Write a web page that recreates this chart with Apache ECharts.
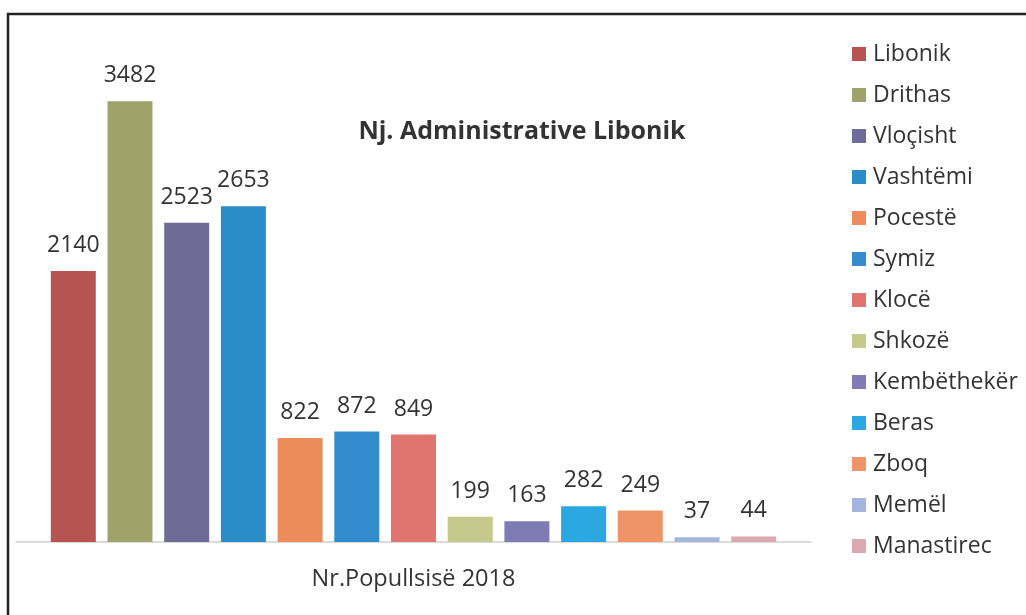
<!DOCTYPE html>
<html>
<head>
<meta charset="utf-8">
<script src="https://cdn.jsdelivr.net/npm/echarts@6/dist/echarts.min.js"></script>
<style>
  html, body { margin: 0; padding: 0; background: #fff; }
  #main { width: 1026px; height: 615px; }
</style>
</head>
<body>
<div id="main"></div>
<script>
// data
var category = ["Nr.Popullsisë 2018"];
var villages = ["Libonik", "Drithas", "Vloçisht", "Vashtëmi", "Pocestë", "Symiz", "Klocë",
  "Shkozë", "Kembëthekër", "Beras", "Zboq", "Memël", "Manastirec"];
var population = [2140, 3482, 2523, 2653, 822, 872, 849, 199, 163, 282, 249, 37, 44];
var colors = ["#b65452", "#9fa36a", "#6f6b96", "#2b8dc8", "#ec8c5a", "#348bce", "#e0756f",
  "#c5c98b", "#7f7cb5", "#2ba7e1", "#ee9467", "#a3b5dd", "#dca9b3"];

var myChart = echarts.init(document.getElementById("main"));

var seriesList = [];
for (var i = 0; i < villages.length; i++) {
  seriesList.push({
    name: villages[i],
    type: "bar",
    data: [population[i]],
    barWidth: 45,
    barGap: "26%",
    itemStyle: { color: colors[i] },
    label: {
      show: true,
      position: "top",
      distance: 14,
      color: "#333",
      fontSize: 23,
      fontFamily: "Open Sans"
    }
  });
}

var option = {
  animation: false,
  backgroundColor: "#fff",
  title: {
    text: "Nj. Administrative Libonik",
    left: 517,
    top: 114,
    textAlign: "center",
    textStyle: {
      fontFamily: "Open Sans",
      fontSize: 25,
      fontWeight: "bold",
      color: "#333"
    }
  },
  legend: {
    orient: "vertical",
    left: 847,
    top: 37,
    itemWidth: 14,
    itemHeight: 14,
    itemGap: 17,
    icon: "rect",
    data: villages,
    textStyle: {
      fontFamily: "Open Sans",
      fontSize: 23,
      lineHeight: 24,
      color: "#333",
      padding: [0, 0, 0, 2]
    }
  },
  grid: {
    left: 16,
    right: 215,
    top: 61,
    bottom: 73
  },
  xAxis: {
    type: "category",
    data: category,
    axisLine: { lineStyle: { color: "#d0d0d0", width: 1.5 } },
    axisTick: { show: false },
    axisLabel: {
      margin: 25,
      color: "#333",
      fontSize: 23.5,
      fontFamily: "Open Sans"
    }
  },
  yAxis: {
    type: "value",
    min: 0,
    max: 3800,
    show: false,
    splitLine: { show: false }
  },
  graphic: [{
    type: "rect",
    shape: { x: 8, y: 14, width: 1040, height: 640 },
    style: { fill: "none", stroke: "#222", lineWidth: 2.5 },
    silent: true
  }],
  series: seriesList
};
option && myChart.setOption(option);
</script>
</body>
</html>
